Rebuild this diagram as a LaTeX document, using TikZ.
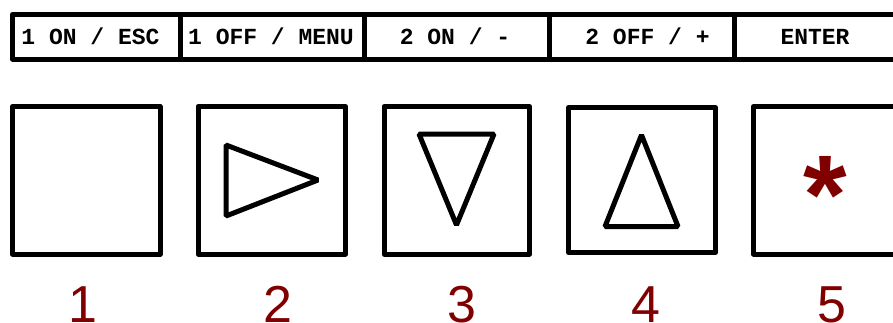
\documentclass[tikz,border=0pt]{standalone}
\usepackage{fontspec}
\usepackage{tikz}
\newfontfamily\keyfont{Liberation Mono}
\newfontfamily\numfont{Liberation Sans}
\definecolor{keyred}{HTML}{800000}
\tikzset{
  keyline/.style={line width=5pt, line join=round},
  keylabel/.style={font=\keyfont\bfseries\fontsize{23}{23}\selectfont, anchor=base, inner sep=0pt},
  keynum/.style={font=\numfont\fontsize{52}{52}\selectfont, text=keyred, anchor=base, inner sep=0pt}
}
\begin{document}
\begin{tikzpicture}[x=1pt,y=-1pt]
  \useasboundingbox (0,0) rectangle (893,322);

  % label bar
  \draw[keyline] (12.5,14.5) rectangle (920,59);
  \draw[keyline] (180,14.5) -- (180,59);
  \draw[keyline] (364.5,14.5) -- (364.5,59);
  \draw[keyline] (549.5,14.5) -- (549.5,59);
  \draw[keyline] (734.5,14.5) -- (734.5,59);
  \node[keylabel] (lab1) at (90.5,44) {1 ON / ESC};
  \node[keylabel] (lab2) at (271,44) {1 OFF / MENU};
  \node[keylabel] (lab3) at (455,44) {2 ON / -};
  \node[keylabel] (lab4) at (647.5,44) {2 OFF / +};
  \node[keylabel] (lab5) at (815,44) {ENTER};

  % keys
  \draw[keyline] (12.5,106.5) rectangle (160,254); % key 1
  \draw[keyline] (198,106.5) rectangle (345.5,254); % key 2
  \draw[keyline] (384,106.5) rectangle (529.5,254); % key 3
  \draw[keyline] (568.5,107.5) rectangle (715.5,252.5); % key 4
  \draw[keyline] (753.5,106.5) rectangle (901,254); % key 5

  % symbols
  \draw[keyline, line join=bevel] (226,145) -- (318,180) -- (226,216) -- cycle;
  \draw[keyline, line join=bevel] (419,134) -- (494,134) -- (456.5,225) -- cycle;
  \draw[keyline, line join=bevel] (641.5,135) -- (678,226.5) -- (605,226.5) -- cycle;
  \node[font=\numfont\bfseries\fontsize{112}{112}\selectfont, text=keyred, inner sep=0pt, anchor=base] (star) at (825,233) {*};

  % numbers
  \node[keynum] (num1) at (83,322.2) {1};
  \node[keynum] (num2) at (277.5,322.2) {2};
  \node[keynum] (num3) at (461.5,322.2) {3};
  \node[keynum] (num4) at (645.5,322.2) {4};
  \node[keynum] (num5) at (831.5,322.2) {5};
\end{tikzpicture}
\end{document}
